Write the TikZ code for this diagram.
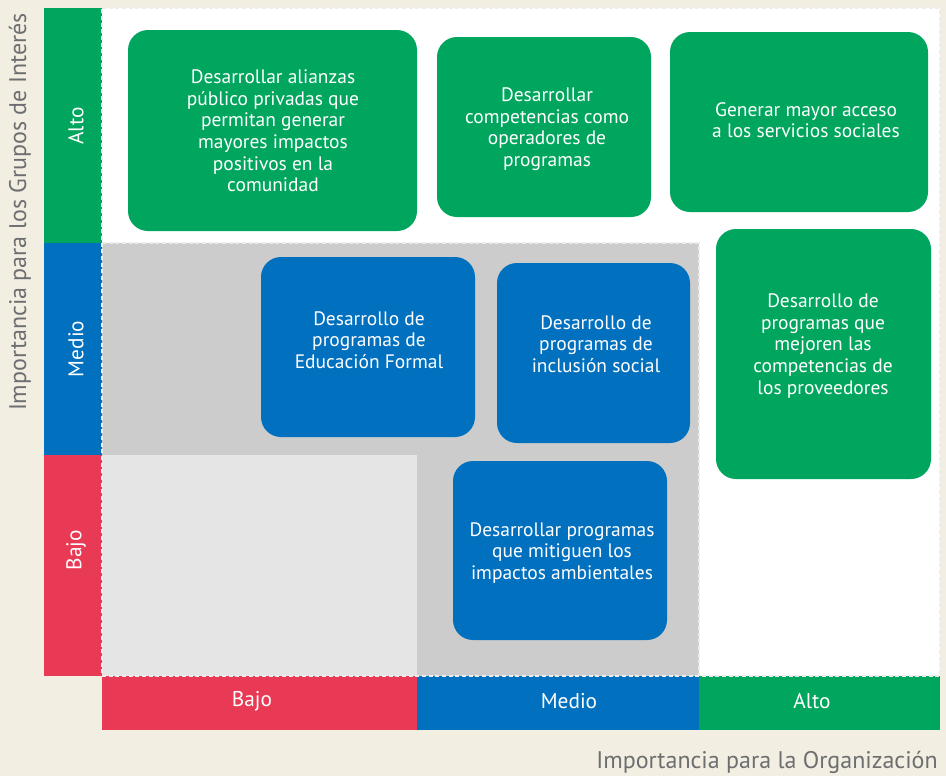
\documentclass[tikz,border=0pt]{standalone}
\usepackage{fontspec}
\setmainfont{PT Sans}
\definecolor{verde}{HTML}{00A65D}
\definecolor{azul}{HTML}{0070BF}
\definecolor{rojo}{HTML}{E83A55}
\definecolor{gris}{HTML}{CCCCCC}
\definecolor{grisclaro}{HTML}{E5E5E5}
\definecolor{fondo}{HTML}{F2EEE2}
\definecolor{letra}{HTML}{6D6E70}

\begin{document}
\begin{tikzpicture}[x=0.75pt, y=-0.75pt,
	caja/.style={rounded corners=15pt},
	texto/.style={text=white, align=center, font=\fontsize{14.6}{16.2}\selectfont},
	nivel/.style={text=white, font=\fontsize{16}{19}\selectfont},
	eje/.style={text=letra, font=\fontsize{18}{21}\selectfont},
	guia/.style={draw=white!85!gray, line width=1pt, dash pattern=on 3pt off 2pt}]
	\useasboundingbox (0,0) rectangle (946,776);
	\fill[fondo] (0,0) rectangle (946,776);
	% zonas de la matriz
	\fill[white] (102,8) rectangle (940,676);
	\fill[gris] (102,243) rectangle (699,676);
	\fill[grisclaro] (102,455) rectangle (417,676);
	% barras de los ejes
	\fill[verde] (44,8) rectangle (102,243);
	\fill[azul] (44,243) rectangle (102,455);
	\fill[rojo] (44,455) rectangle (102,676);
	\fill[rojo] (102,676) rectangle (417,730);
	\fill[azul] (417,676) rectangle (699,730);
	\fill[verde] (699,676) rectangle (940,730);
	% guias
	\draw[guia] (102,8) -- (940,8) -- (940,676) -- (102,676) -- cycle;
	\draw[guia] (102,243) -- (699,243) -- (699,676);
	% cajas
	\fill[verde, caja] (128,30) rectangle (417,231);
	\fill[verde, caja] (437,37) rectangle (651,217);
	\fill[verde, caja] (670,32) rectangle (928,212);
	\fill[verde, caja] (716,229) rectangle (931,479);
	\fill[azul, caja] (261,257) rectangle (475,437);
	\fill[azul, caja] (497,263) rectangle (690,443);
	\fill[azul, caja] (453,461) rectangle (667,640);
	\draw (273,131) node[texto](alianzas) {Desarrollar alianzas\\público privadas que\\permitan generar\\mayores impactos\\positivos en la\\comunidad};
	\draw (547,129) node[texto](operadores) {Desarrollar\\competencias como\\operadores de\\programas};
	\draw (806,120) node[texto](acceso) {Generar mayor acceso\\a los servicios sociales};
	\draw (823,346) node[texto](proveedores) {Desarrollo de\\programas que\\mejoren las\\competencias de\\los proveedores};
	\draw (369,340) node[texto](educacion) {Desarrollo de\\programas de\\Educación Formal};
	\draw (596,344) node[texto](inclusion) {Desarrollo de\\programas de\\inclusión social};
	\draw (562,553) node[texto](ambiente) {Desarrollar programas\\que mitiguen los\\impactos ambientales};
	% etiquetas de nivel
	\draw (76,126) node[nivel, rotate=90](altoV) {Alto};
	\draw (76,349) node[nivel, rotate=90](medioV) {Medio};
	\draw (76,550) node[nivel, rotate=90](bajoV) {Bajo};
	\draw (252,701) node[nivel](bajoH) {Bajo};
	\draw (569,701) node[nivel](medioH) {Medio};
	\draw (812,701) node[nivel](altoH) {Alto};
	% titulos de los ejes
	\draw (20,212) node[eje, rotate=90](grupos) {Importancia para los Grupos de Interés};
	\draw (767,762) node[eje](organizacion) {Importancia para la Organización};
\end{tikzpicture}
\end{document}
